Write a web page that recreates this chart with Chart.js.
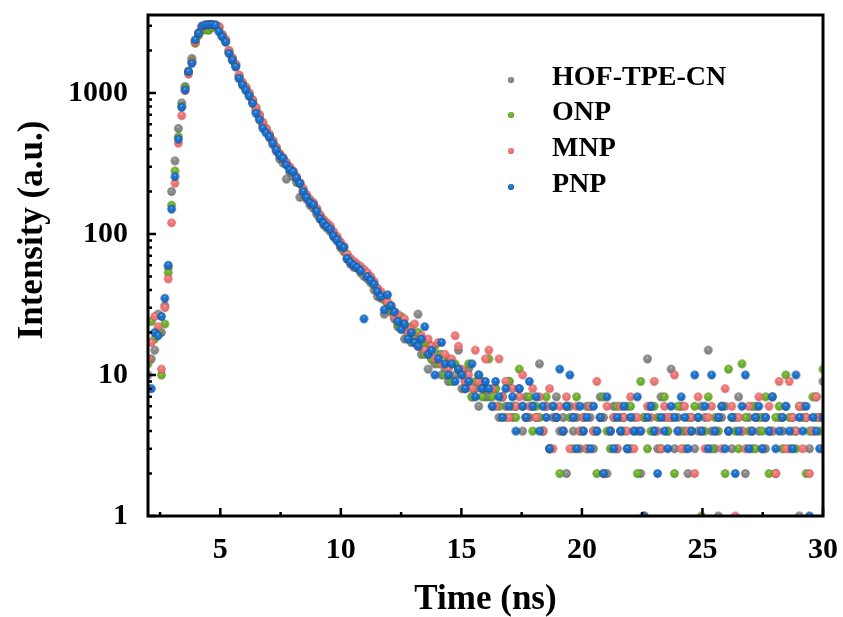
<!DOCTYPE html>
<html>
<head>
<meta charset="utf-8">
<title>Decay curves</title>
<script src="https://cdn.jsdelivr.net/npm/chart.js@4.4.1/dist/chart.umd.min.js"></script>
<style>
	body { margin: 0; background: #fff; }
	canvas { display: block; }
</style>
</head>
<body>
<canvas id="decayChart" width="843" height="617"></canvas>
<script>
// Time axis (ns), shared by all four curves
const times = [
	2.00,2.14,2.28,2.42,2.56,2.70,2.84,2.98,3.12,3.26,
	3.40,3.54,3.68,3.82,3.96,4.10,4.24,4.38,4.52,4.66,
	4.80,4.94,5.08,5.22,5.36,5.50,5.64,5.78,5.92,6.06,
	6.20,6.34,6.48,6.62,6.76,6.90,7.04,7.18,7.32,7.46,
	7.60,7.74,7.88,8.02,8.16,8.30,8.44,8.58,8.72,8.86,
	9.00,9.14,9.28,9.42,9.56,9.70,9.84,9.98,10.12,10.26,
	10.40,10.54,10.68,10.82,10.96,11.10,11.24,11.38,11.52,11.66,
	11.80,11.94,12.08,12.22,12.36,12.50,12.64,12.78,12.92,13.06,
	13.20,13.34,13.48,13.62,13.76,13.90,14.04,14.18,14.32,14.46,
	14.60,14.74,14.88,15.02,15.16,15.30,15.44,15.58,15.72,15.86,
	16.00,16.14,16.28,16.42,16.56,16.70,16.84,16.98,17.12,17.26,
	17.40,17.54,17.68,17.82,17.96,18.10,18.24,18.38,18.52,18.66,
	18.80,18.94,19.08,19.22,19.36,19.50,19.64,19.78,19.92,20.06,
	20.20,20.34,20.48,20.62,20.76,20.90,21.04,21.18,21.32,21.46,
	21.60,21.74,21.88,22.02,22.16,22.30,22.44,22.58,22.72,22.86,
	23.00,23.14,23.28,23.42,23.56,23.70,23.84,23.98,24.12,24.26,
	24.40,24.54,24.68,24.82,24.96,25.10,25.24,25.38,25.52,25.66,
	25.80,25.94,26.08,26.22,26.36,26.50,26.64,26.78,26.92,27.06,
	27.20,27.34,27.48,27.62,27.76,27.90,28.04,28.18,28.32,28.46,
	28.60,28.74,28.88,29.02,29.16,29.30,29.44,29.58,29.72,29.86,
	30.00
];

// Counts
const hofTpeCn = [
	10,13,15,27,20,31,58,200,330,560,
	850,1110,1430,1760,2330,2680,2920,3010,3040,3020,
	2990,2900,2520,2300,1930,1700,1530,1270,1140,1050,
	950,850,745,665,585,530,480,430,385,340,
	318,245,275,255,232,182,192,176,160,152,
	138,127,116,110,104,95,89,80,75,66,
	61,58,57,53,50,48,45,40,36,35,
	27,30,28,25,22,23,18,21,17,19,
	27,14,15,11,13,12,14,10,11,9,
	12,10,15,8,9,11,7,8,6,9,
	7,7,6,8,5,7,6,9,5,6,
	8,4,7,5,6,5,12,4,6,3,
	5,7,4,5,2,6,4,5,3,4,
	6,5,3,4,7,5,2,4,6,3,
	5,4,6,3,5,4,2,5,13,6,
	4,3,7,5,4,11,3,5,6,4,
	2,5,3,4,6,5,15,4,3,1,
	5,6,4,3,5,7,4,2,5,3,
	6,4,5,3,4,7,2,5,4,6,
	3,5,4,1,6,5,3,4,7,5,
	9
];
const onp = [
	12,24,18,20,10,23,53,160,280,490,
	800,1090,1380,1680,2250,2560,2800,2800,2780,2900,
	2990,2930,2580,2380,1990,1760,1590,1330,1180,1100,
	990,890,780,700,615,560,505,455,410,372,
	340,318,295,272,250,228,205,188,173,163,
	149,135,124,118,112,101,95,86,81,71,
	66,63,60,57,54,52,49,43,41,38,
	34,32,29,28,23,26,21,19,22,17,
	20,16,14,17,13,16,12,14,10,13,
	9,12,11,10,8,12,7,9,10,7,
	8,13,7,8,6,7,5,9,6,5,
	11,6,5,7,4,6,5,4,7,3,
	6,5,2,4,6,5,3,7,4,5,
	3,6,4,2,5,7,4,3,5,6,
	4,5,3,6,4,2,9,5,3,4,
	6,5,3,7,4,5,2,6,4,3,
	5,4,6,5,1,4,7,3,5,4,
	6,2,11,5,4,3,12,5,4,6,
	3,5,4,7,2,4,5,6,3,10,
	5,4,3,6,5,2,4,7,5,4,
	11
];
const mnp = [
	13,17,26,22,11,30,48,120,229,440,
	690,1040,1360,1650,2280,2620,2940,3030,3060,3050,
	3040,2970,2600,2400,2000,1770,1600,1340,1190,1090,
	1000,895,790,700,620,560,510,460,412,370,
	348,322,300,280,255,232,210,190,176,167,
	152,137,127,120,114,104,96,88,82,72,
	67,64,61,59,56,53,50,46,41,39,
	35,33,31,26,27,24,25,20,21,23,
	16,19,15,18,16,13,17,12,14,11,
	13,19,16,11,9,10,8,15,9,8,
	13,15,8,6,13,7,9,5,8,6,
	7,10,5,6,8,5,7,4,6,8,
	3,5,6,4,7,3,5,6,4,5,
	3,6,4,9,5,2,6,4,5,3,
	6,5,4,7,3,5,4,1,6,5,
	9,4,3,6,5,5,10,4,3,6,
	4,5,2,7,4,3,5,6,4,5,
	3,8,4,6,1,5,4,3,6,4,
	5,7,3,5,6,4,2,9,5,3,
	9,5,4,6,3,5,2,4,7,5,
	3
];
const pnp = [
	8,8,20,19,26,35,60,150,255,470,
	792,1050,1417,1622,2376,2650,2985,3040,3050,3060,
	3030,2720,2500,2300,1908,1714,1537,1271,1140,1048,
	952,845,718,644,562,520,490,440,395,360,
	344,308,285,276,250,228,200,182,167,161,
	145,129,120,113,108,97,91,83,80,67,
	63,60,58,55,25,50,47,44,39,36,
	29,37,31,28,24,21,23,18,20,17,
	16,18,22,14,15,10,13,17,12,10,
	12,9,11,10,8,9,12,7,10,8,
	9,8,6,9,7,5,8,6,7,4,
	8,6,5,9,6,7,4,6,5,3,
	6,5,11,4,6,10,5,3,6,4,
	5,3,6,4,5,2,7,4,3,5,
	4,6,3,5,4,7,4,1,5,6,
	4,2,5,4,3,6,5,4,7,5,
	3,4,10,5,4,6,3,10,4,5,
	6,3,4,5,2,4,6,10,3,4,
	5,6,3,5,4,7,3,4,5,6,
	4,3,10,5,4,6,1,5,4,3,
	5
];

const seriesNames = ['HOF-TPE-CN', 'ONP', 'MNP', 'PNP'];
const seriesValues = [hofTpeCn, onp, mnp, pnp];
const seriesColors = [
	['#8a8a8a', '#4e4e4e'],
	['#6fb22c', '#3f7a0c'],
	['#ee7676', '#c84848'],
	['#1a72cf', '#083f8a']
];
const xTicks = [5, 10, 15, 20, 25, 30];
const xMinorTicks = [2.5, 7.5, 12.5, 17.5, 22.5, 27.5];
const yTicks = [1, 10, 100, 1000];

const FONT = "'Liberation Serif', 'Times New Roman', serif";

// shaded little ball used as point marker
function makeBall(color, dark, r) {
	const s = Math.ceil(r * 2) + 2;
	const c = document.createElement('canvas');
	c.width = s;
	c.height = s;
	const g = c.getContext('2d');
	const cx = s / 2, cy = s / 2;
	const grad = g.createRadialGradient(cx - r * 0.1, cy - r * 0.4, r * 0.02, cx, cy, r);
	grad.addColorStop(0, '#ffffff');
	grad.addColorStop(0.22, color);
	grad.addColorStop(0.75, color);
	grad.addColorStop(1, dark);
	g.fillStyle = grad;
	g.beginPath();
	g.arc(cx, cy, r, 0, Math.PI * 2);
	g.fill();
	return c;
}

const balls = seriesColors.map(c => makeBall(c[0], c[1], 4.2));
const legendBalls = seriesColors.map(c => makeBall(c[0], c[1], 3));

// frame, inward ticks, y title and legend
const decorPlugin = {
	id: 'decor',
	afterDraw(chart) {
		const ctx = chart.ctx;
		const a = chart.chartArea;
		const xs = chart.scales.x;
		const ys = chart.scales.y;
		ctx.save();
		ctx.strokeStyle = '#000';
		ctx.lineWidth = 2.5;
		ctx.beginPath();
		xTicks.forEach(v => {
			const px = xs.getPixelForValue(v);
			ctx.moveTo(px, a.bottom);
			ctx.lineTo(px, a.bottom - 8);
		});
		xMinorTicks.forEach(v => {
			const px = xs.getPixelForValue(v);
			ctx.moveTo(px, a.bottom);
			ctx.lineTo(px, a.bottom - 4);
		});
		yTicks.forEach(v => {
			const py = ys.getPixelForValue(v);
			ctx.moveTo(a.left, py);
			ctx.lineTo(a.left + 8, py);
			for (let k = 2; k <= 9; k++) {
				if (v * k > ys.max) break;
				const pm = ys.getPixelForValue(v * k);
				ctx.moveTo(a.left, pm);
				ctx.lineTo(a.left + 4, pm);
			}
		});
		ctx.stroke();

		ctx.lineWidth = 3;
		ctx.strokeRect(a.left, a.top, a.right - a.left, a.bottom - a.top);

		// y axis title
		ctx.fillStyle = '#000';
		ctx.font = 'bold 35px ' + FONT;
		ctx.textAlign = 'center';
		ctx.textBaseline = 'middle';
		ctx.translate(33, 230);
		ctx.rotate(-Math.PI / 2);
		ctx.fillText('Intensity (a.u.)', 0, 0);
		ctx.restore();

		// legend
		ctx.save();
		ctx.font = 'bold 28px ' + FONT;
		ctx.fillStyle = '#000';
		ctx.textAlign = 'left';
		ctx.textBaseline = 'middle';
		const rows = [78, 113, 149, 185];
		seriesNames.forEach((name, i) => {
			const b = legendBalls[i];
			ctx.drawImage(b, 511 - b.width / 2, rows[i] + 2 - b.height / 2);
			ctx.fillText(name, 552, rows[i]);
		});
		ctx.restore();
	}
};

const ctx = document.getElementById('decayChart').getContext('2d');
window.myChart = new Chart(ctx, {
	type: 'scatter',
	data: {
		datasets: seriesNames.map((name, i) => ({
			label: name,
			data: times.map((t, j) => ({ x: t, y: seriesValues[i][j] })),
			pointStyle: balls[i],
			pointRadius: 4.2,
			order: seriesNames.length - 1 - i
		}))
	},
	options: {
		responsive: false,
		animation: false,
		events: [],
		layout: { padding: { left: 0, right: 20, top: 15, bottom: 0 } },
		scales: {
			x: {
				type: 'linear',
				min: 2,
				max: 30,
				grid: { display: false },
				border: { display: false },
				afterBuildTicks: scale => { scale.ticks = xTicks.map(v => ({ value: v })); },
				afterFit: scale => {
					scale.height = 101;
					scale.paddingLeft = 0;
					scale.paddingRight = 0;
				},
				ticks: {
					color: '#000',
					padding: 8,
					font: { family: FONT, size: 30, weight: 'bold' }
				},
				title: {
					display: true,
					text: 'Time (ns)',
					color: '#000',
					padding: 0,
					font: { family: FONT, size: 35, weight: 'bold', lineHeight: 1 }
				}
			},
			y: {
				type: 'logarithmic',
				min: 1,
				max: 3570,
				grid: { display: false },
				border: { display: false },
				afterBuildTicks: scale => { scale.ticks = yTicks.map(v => ({ value: v })); },
				afterFit: scale => {
					scale.width = 148;
					scale.paddingTop = 0;
					scale.paddingBottom = 0;
				},
				ticks: {
					color: '#000',
					padding: 12,
					font: { family: FONT, size: 30, weight: 'bold' },
					callback: v => String(v)
				}
			}
		},
		plugins: {
			legend: { display: false },
			tooltip: { enabled: false }
		}
	},
	plugins: [decorPlugin]
});
</script>
</body>
</html>
